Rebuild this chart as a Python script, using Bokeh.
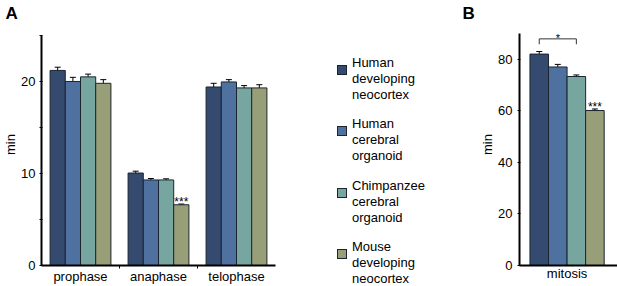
from bokeh.plotting import figure
from bokeh.models import Range1d, FixedTicker, Whisker, ColumnDataSource, TeeHead, Div
from bokeh.layouts import row
from bokeh.embed import file_html
from bokeh.resources import INLINE
from bokeh.core.properties import value

# ---------------- data ----------------
series = ["Human\ndeveloping\nneocortex",
          "Human\ncerebral\norganoid",
          "Chimpanzee\ncerebral\norganoid",
          "Mouse\ndeveloping\nneocortex"]
colors = ["#344a6f", "#4e71a0", "#77a59f", "#989f78"]

phases = ["prophase", "anaphase", "telophase"]
human_dev_A = [21.2, 10.05, 19.4]
human_org_A = [20.0, 9.3, 19.95]
chimp_org_A = [20.5, 9.3, 19.3]
mouse_dev_A = [19.8, 6.6, 19.3]
human_dev_A_err = [0.35, 0.2, 0.4]
human_org_A_err = [0.45, 0.15, 0.25]
chimp_org_A_err = [0.3, 0.12, 0.25]
mouse_dev_A_err = [0.4, 0.08, 0.35]
mouse_stars_A = ["", "***", ""]

mitosis_label = ["mitosis"]
mitosis_mean = [82.0, 77.0, 73.3, 60.1]
mitosis_err = [1.0, 1.0, 0.6, 0.6]
mitosis_stars = ["", "", "", "***"]
bracket_pair = [0, 2]
bracket_text = "*"
bracket_y = 87.9
bracket_drop = 2.1

FONT = "Liberation Sans"
BAR_W = 0.195
OUTLINE = "#1c2430"
TOP = 22
BOTTOM = 21

# ---------------- panel A ----------------
pA = figure(width=310, height=286, x_range=Range1d(0, 3), y_range=Range1d(0, 26.3),
            output_backend="svg", toolbar_location=None,
            min_border_left=36, min_border_right=35, min_border_top=TOP,
            min_border_bottom=BOTTOM)
valsA = [human_dev_A, human_org_A, chimp_org_A, mouse_dev_A]
errsA = [human_dev_A_err, human_org_A_err, chimp_org_A_err, mouse_dev_A_err]
for j in range(4):
    xs = [i + 0.5 + (j - 1.5) * BAR_W for i in range(len(phases))]
    src = ColumnDataSource(dict(x=xs, top=valsA[j],
                                lo=[v - e for v, e in zip(valsA[j], errsA[j])],
                                hi=[v + e for v, e in zip(valsA[j], errsA[j])]))
    pA.vbar(x="x", top="top", width=BAR_W, source=src, fill_color=colors[j],
            line_color=OUTLINE, line_width=1)
    pA.add_layout(Whisker(base="x", lower="lo", upper="hi", source=src,
                          line_color="black", line_width=1,
                          upper_head=TeeHead(size=6, line_color="black", line_width=1),
                          lower_head=TeeHead(size=6, line_color="black", line_width=1)))
    if j == 3:
        ssrc = ColumnDataSource(dict(x=xs, y=[v + e for v, e in zip(valsA[j], errsA[j])],
                                     t=mouse_stars_A))
        pA.text(x="x", y="y", text="t", source=ssrc, text_align="center",
                text_baseline="alphabetic", text_font=value(FONT), text_font_size="12px",
                text_color="black", y_offset=-2)

# ---------------- legend (HTML) ----------------
step = 61.3
parts = ['<div style="position:relative;width:150px;height:286px;'
         'font-family:\'Liberation Sans\';font-size:13px;color:black;">']
for i, (lab, col) in enumerate(zip(series, colors)):
    parts.append('<div style="position:absolute;left:27px;top:%.1fpx;width:10px;height:10px;'
                 'box-sizing:border-box;background:%s;border:1px solid %s;"></div>'
                 % (65 + i * step, col, OUTLINE))
    parts.append('<div style="position:absolute;left:42px;top:%.1fpx;line-height:16px;'
                 'white-space:nowrap;">%s</div>' % (55 + i * step, "<br>".join(lab.split("\n"))))
parts.append('</div>')
legend_div = Div(text="".join(parts), width=150, height=286, margin=0)

# ---------------- panel B ----------------
pB = figure(width=157, height=286, x_range=Range1d(0, 1.03), y_range=Range1d(0, 93.86),
            output_backend="svg", toolbar_location=None,
            min_border_left=59, min_border_right=0, min_border_top=TOP,
            min_border_bottom=BOTTOM)
xsB = [0.5 + (j - 1.5) * BAR_W for j in range(4)]
srcB = ColumnDataSource(dict(x=xsB, top=mitosis_mean, c=colors,
                             lo=[v - e for v, e in zip(mitosis_mean, mitosis_err)],
                             hi=[v + e for v, e in zip(mitosis_mean, mitosis_err)],
                             t=mitosis_stars))
pB.vbar(x="x", top="top", width=BAR_W, source=srcB, fill_color="c",
        line_color=OUTLINE, line_width=1)
pB.add_layout(Whisker(base="x", lower="lo", upper="hi", source=srcB,
                      line_color="black", line_width=1,
                      upper_head=TeeHead(size=6, line_color="black", line_width=1),
                      lower_head=TeeHead(size=6, line_color="black", line_width=1)))
pB.text(x="x", y="hi", text="t", source=srcB, text_align="center",
        text_baseline="alphabetic", text_font=value(FONT), text_font_size="12px",
        text_color="black", y_offset=-2)
bx = [xsB[bracket_pair[0]], xsB[bracket_pair[0]], xsB[bracket_pair[1]], xsB[bracket_pair[1]]]
by = [bracket_y - bracket_drop, bracket_y, bracket_y, bracket_y - bracket_drop]
pB.line(x=bx, y=by, line_color="#333333", line_width=1)
pB.text(x=[(bx[0] + bx[2]) / 2], y=[bracket_y], text=[bracket_text], text_align="center",
        text_baseline="alphabetic", text_font=value(FONT), text_font_size="11px",
        text_color="black", y_offset=-1)

# ---------------- axes styling ----------------
for p in (pA, pB):
    p.xgrid.visible = False
    p.ygrid.visible = False
    p.outline_line_color = None
    p.background_fill_color = "white"
    p.border_fill_color = "white"
    for ax in (p.xaxis[0], p.yaxis[0]):
        ax.axis_line_width = 2
        ax.axis_line_color = "black"
        ax.major_label_text_font = FONT
        ax.major_label_text_font_size = "13px"
        ax.major_label_text_color = "black"
        ax.axis_label_text_font = FONT
        ax.axis_label_text_font_size = "13px"
        ax.axis_label_text_font_style = "normal"
        ax.axis_label_text_color = "black"
    p.yaxis.axis_label = "min"
    p.yaxis.axis_label_standoff = 0
    p.yaxis.major_tick_in = 1
    p.yaxis.major_tick_out = 2
    p.yaxis.minor_tick_in = 1
    p.yaxis.minor_tick_out = 2
    p.yaxis.major_tick_line_color = "black"
    p.yaxis.minor_tick_line_color = "black"
    p.xaxis.major_tick_line_color = None
    p.xaxis.major_tick_in = 0
    p.xaxis.major_tick_out = 0
    p.xaxis.major_label_standoff = 0
    p.title.text_font = FONT
    p.title.text_font_size = "17px"
    p.title.text_font_style = "bold"
    p.title.text_color = "black"
    p.title.align = "left"
    p.title.standoff = 2

pA.yaxis.major_label_standoff = 4
pB.yaxis.major_label_standoff = 5

pA.title.text = "A"
pA.title.offset = -36
pB.title.text = "B"
pB.title.offset = -57

pA.yaxis.ticker = FixedTicker(ticks=[0, 10, 20], minor_ticks=[5, 15, 25])
pA.yaxis.bounds = (0, 25)
pA.xaxis.ticker = FixedTicker(ticks=[i + 0.5 for i in range(len(phases))],
                              minor_ticks=list(range(1, len(phases))))
pA.xaxis.major_label_overrides = {i + 0.5: ph for i, ph in enumerate(phases)}
pA.xaxis.minor_tick_line_color = "black"
pA.xaxis.minor_tick_in = 0
pA.xaxis.minor_tick_out = 3

pB.yaxis.ticker = FixedTicker(ticks=[0, 20, 40, 60, 80], minor_ticks=[])
pB.yaxis.bounds = (0, 90)
pB.xaxis.ticker = FixedTicker(ticks=[0.5], minor_ticks=[])
pB.xaxis.major_label_overrides = {0.5: mitosis_label[0]}
pB.xaxis.minor_tick_line_color = None

layout = row(pA, legend_div, pB, spacing=0)
open("out.html", "w").write(file_html(layout, INLINE))
